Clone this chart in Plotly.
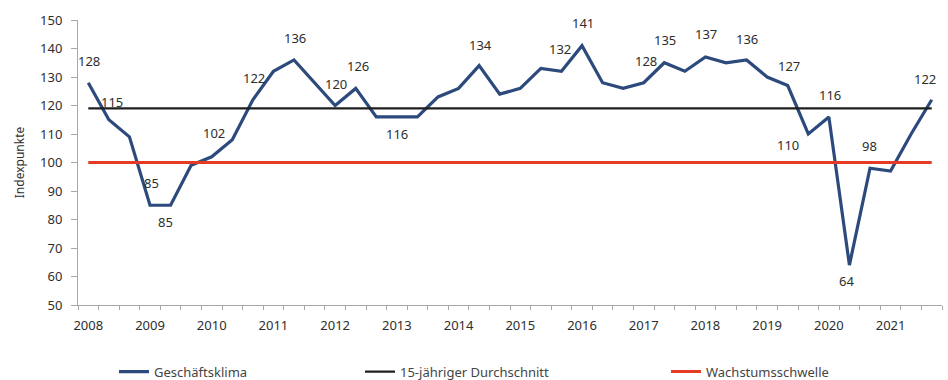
import plotly.graph_objects as go

# ---- data ----
years = ["2008", "2009", "2010", "2011", "2012", "2013", "2014",
         "2015", "2016", "2017", "2018", "2019", "2020", "2021"]
geschaeftsklima = [128, 115, 109, 85, 85, 99, 102, 108, 122, 132, 136, 128,
                   120, 126, 116, 116, 116, 123, 126, 134, 124, 126, 133, 132,
                   141, 128, 126, 128, 135, 132, 137, 135, 136, 130, 127, 110,
                   116, 64, 98, 97, 110, 122]
durchschnitt_15j = 119
wachstumsschwelle = 100
points_per_year = 3

# labelled points (index) with label offsets in px (style only)
label_offsets = {
    0: (1, 22), 1: (3, 18), 3: (1, 22), 4: (-5, -17), 6: (2, 24), 8: (1, 22),
    10: (1, 22), 12: (1, 22), 13: (2, 22), 15: (0, -17), 19: (1, 21),
    23: (-1, 22), 24: (1, 23), 27: (2, 22), 28: (1, 23), 30: (1, 23),
    32: (0, 21), 34: (1, 20), 35: (-20, -11), 36: (1, 22), 37: (-3, -16),
    38: (-1, 22), 41: (-7, 21),
}

n = len(geschaeftsklima)
x = list(range(n))

FONT = "Noto Sans"
TXT = "#2E2E2E"
AX = "#A8A8A8"

fig = go.Figure()
fig.add_trace(go.Scatter(x=x, y=geschaeftsklima, mode="lines",
                         name="Geschäftsklima",
                         line=dict(color="#2C4A7C", width=3.2),
                         legend="legend"))
fig.add_trace(go.Scatter(x=x, y=[durchschnitt_15j] * n, mode="lines",
                         name="15-jähriger Durchschnitt",
                         line=dict(color="#1E1E1E", width=2.2),
                         legend="legend2"))
fig.add_trace(go.Scatter(x=x, y=[wachstumsschwelle] * n, mode="lines",
                         name="Wachstumsschwelle",
                         line=dict(color="#E33B24", width=3),
                         legend="legend3"))

for i, (dx, dy) in label_offsets.items():
    fig.add_annotation(x=i, y=geschaeftsklima[i], text=str(geschaeftsklima[i]),
                       showarrow=False, xshift=dx, yshift=dy,
                       font=dict(family=FONT, size=13, color=TXT))

leg_common = dict(orientation="h", xref="container", yref="container",
                  y=0.022, yanchor="middle", xanchor="left",
                  font=dict(family=FONT, size=13, color="#444444"),
                  bgcolor="rgba(0,0,0,0)")

fig.update_layout(
    width=948, height=380,
    margin=dict(l=78, r=6, t=20, b=75),
    paper_bgcolor="white", plot_bgcolor="white",
    font=dict(family=FONT, size=13, color=TXT),
    showlegend=True,
    legend=dict(x=114 / 948, **leg_common),
    legend2=dict(x=360 / 948, **leg_common),
    legend3=dict(x=666 / 948, **leg_common),
    xaxis=dict(
        range=[-0.5, n - 0.5],
        tickmode="array",
        tickvals=[k * points_per_year for k in range(len(years))],
        ticktext=years,
        ticks="", showgrid=False, zeroline=False,
        showline=True, linecolor=AX, linewidth=1,
        ticklabelstandoff=8,
        tickfont=dict(family=FONT, size=13, color=TXT),
        minor=dict(tickmode="linear", tick0=-0.5, dtick=1, ticks="outside",
                   ticklen=4, tickcolor=AX, showgrid=False),
    ),
    yaxis=dict(
        range=[50, 150], dtick=10, tick0=50,
        ticks="outside", ticklen=6, tickcolor=AX,
        showgrid=False, zeroline=False,
        showline=True, linecolor=AX, linewidth=1,
        ticklabelstandoff=6,
        tickfont=dict(family=FONT, size=13, color=TXT),
        title=dict(text="Indexpunkte", standoff=12,
                   font=dict(family=FONT, size=12, color=TXT)),
    ),
)

fig.write_html("out.html")
